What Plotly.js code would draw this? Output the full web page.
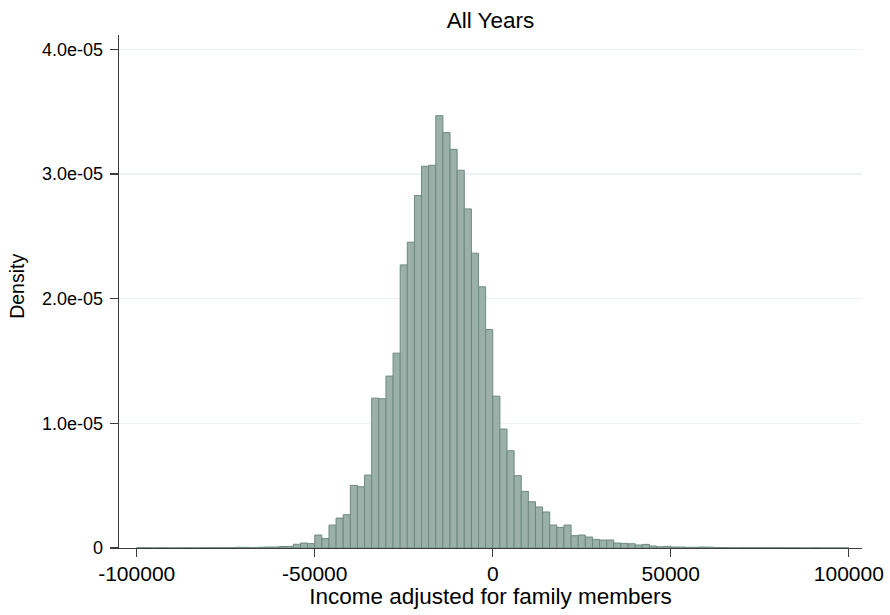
<!DOCTYPE html>
<html>
<head>
<meta charset="utf-8">
<script src="https://cdn.plot.ly/plotly-3.0.1.min.js"></script>
<style>
  html, body { margin: 0; padding: 0; background: #ffffff; }
  #chart { width: 890px; height: 615px; }
</style>
</head>
<body>
<div id="chart"></div>
<script>
// Histogram of income adjusted for family members, all years pooled.
// Bins are 2000 wide; binLeft holds each bin's lower edge.
const binWidth = 2000;

const binLeft = [
  -100000, -98000, -96000, -94000, -92000, -90000, -88000, -86000, -84000, -82000,
  -80000, -78000, -76000, -74000, -72000, -70000, -68000, -66000, -64000, -62000,
  -60000, -58000, -56000, -54000, -52000, -50000, -48000, -46000, -44000, -42000,
  -40000, -38000, -36000, -34000, -32000, -30000, -28000, -26000, -24000, -22000,
  -20000, -18000, -16000, -14000, -12000, -10000, -8000, -6000, -4000, -2000,
  0, 2000, 4000, 6000, 8000, 10000, 12000, 14000, 16000, 18000,
  20000, 22000, 24000, 26000, 28000, 30000, 32000, 34000, 36000, 38000,
  40000, 42000, 44000, 46000, 48000, 50000, 52000, 54000, 56000, 58000,
  60000, 62000, 64000, 66000, 68000, 70000, 72000, 74000, 76000, 78000,
  80000, 82000, 84000, 86000, 88000, 90000, 92000, 94000, 96000, 98000
];

// Density per bin, in units of 1e-5
const densityE5 = [
  0.002, 0.002, 0.001, 0.002, 0.001, 0.001, 0.002, 0.002, 0.001, 0.002,
  0.002, 0.003, 0.002, 0.003, 0.006, 0.005, 0.003, 0.006, 0.008, 0.008,
  0.012, 0.013, 0.030, 0.040, 0.035, 0.104, 0.075, 0.184, 0.240, 0.267,
  0.502, 0.491, 0.585, 1.202, 1.197, 1.379, 1.563, 2.271, 2.453, 2.827,
  3.062, 3.070, 3.468, 3.332, 3.198, 3.030, 2.720, 2.365, 2.095, 1.752,
  1.218, 0.954, 0.780, 0.580, 0.454, 0.371, 0.329, 0.289, 0.184, 0.165,
  0.184, 0.099, 0.104, 0.088, 0.069, 0.064, 0.064, 0.040, 0.037, 0.034,
  0.024, 0.029, 0.016, 0.010, 0.013, 0.008, 0.008, 0.006, 0.006, 0.008,
  0.007, 0.004, 0.004, 0.003, 0.002, 0.003, 0.002, 0.002, 0.003, 0.003,
  0.002, 0.002, 0.002, 0.001, 0.001, 0.002, 0.001, 0.001, 0.001, 0.001
];

const xTickVals = [-100000, -50000, 0, 50000, 100000];
const xTickText = ['-100000', '-50000', '0', '50000', '100000'];
const yTickVals = [0, 1e-5, 2e-5, 3e-5, 4e-5];
const yTickText = ['0', '1.0e-05', '2.0e-05', '3.0e-05', '4.0e-05'];

const density = densityE5.map(v => v * 1e-5);

const font = 'Helvetica, "Liberation Sans", Arial, sans-serif';
const axisColor = '#3c3c3c';

const trace = {
  type: 'bar',
  x: binLeft,
  y: density,
  width: binWidth,
  offset: 0,
  marker: {
    color: '#9bb0a8',
    line: { color: '#6d8a7f', width: 1 }
  },
  hoverinfo: 'x+y'
};

const layout = {
  width: 890,
  height: 615,
  paper_bgcolor: '#ffffff',
  plot_bgcolor: '#ffffff',
  margin: { l: 119, r: 28, t: 35, b: 67 },
  showlegend: false,
  bargap: 0,
  font: { family: font, color: '#000000' },
  title: {
    text: 'All Years',
    font: { family: font, size: 22.5, color: '#000000' },
    x: 0.5, xref: 'paper', xanchor: 'center',
    y: 1 - 20 / 615, yref: 'container', yanchor: 'middle'
  },
  xaxis: {
    range: [-104970, 103700],
    tickvals: xTickVals,
    ticktext: xTickText,
    ticks: 'outside',
    ticklen: 8,
    tickwidth: 1.3,
    tickcolor: axisColor,
    showline: true,
    linecolor: axisColor,
    linewidth: 1.3,
    showgrid: false,
    zeroline: false,
    ticklabelstandoff: -2,
    tickfont: { family: font, size: 21, color: '#000000' },
    title: {
      text: 'Income adjusted for family members',
      font: { family: font, size: 22.5, color: '#000000' },
      standoff: 2
    }
  },
  yaxis: {
    range: [0, 4.115e-5],
    tickvals: yTickVals,
    ticktext: yTickText,
    ticks: 'outside',
    ticklen: 8,
    tickwidth: 1.3,
    tickcolor: axisColor,
    showline: true,
    linecolor: axisColor,
    linewidth: 1.3,
    showgrid: true,
    gridcolor: '#eaf2f3',
    gridwidth: 1.5,
    zeroline: false,
    ticklabelstandoff: 3,
    tickfont: { family: font, size: 18, color: '#000000' }
  },
  annotations: [
    {
      // y-axis title, placed to the left of the tick labels
      text: 'Density',
      textangle: -90,
      xref: 'paper', yref: 'paper',
      x: (17.5 - 119) / 743, y: 0.51,
      xanchor: 'center', yanchor: 'middle',
      showarrow: false,
      font: { family: font, size: 19.5, color: '#000000' }
    }
  ]
};

Plotly.newPlot('chart', [trace], layout, { displayModeBar: false, staticPlot: true });
</script>
</body>
</html>
